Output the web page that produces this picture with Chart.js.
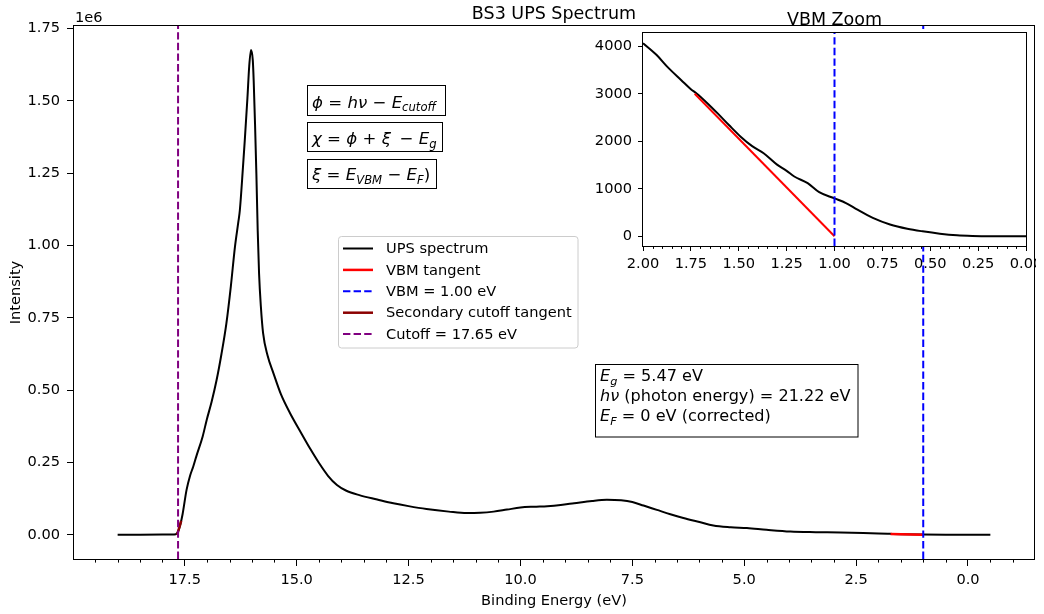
<!DOCTYPE html>
<html lang="en">
<head>
    <meta charset="UTF-8">
    <title>BS3 UPS Spectrum</title>
    <script src="https://cdn.jsdelivr.net/npm/chart.js"></script>
    <style>
        body {
            margin: 0;
            background: #fff;
        }
        #wrap {
            position: relative;
            width: 1044px;
            height: 614px;
        }
        #mainChart {
            position: absolute;
            left: 0;
            top: 0;
        }
        #insetChart {
            position: absolute;
            left: 590px;
            top: 0;
        }
    </style>
</head>
<body>
    <div id="wrap">
        <canvas id="mainChart" width="1044" height="614"></canvas>
        <canvas id="insetChart" width="446" height="290"></canvas>
    </div>

    <script>
        // spectrum (binding energy in eV, intensity in counts)
        const energy = [
            19.0, 18.5, 18.0, 17.8, 17.7, 17.66, 17.6, 17.55, 17.46, 17.38, 17.31, 17.24,
            17.1, 17.01, 16.9, 16.79, 16.68, 16.57, 16.47, 16.38, 16.3, 16.27, 16.2, 16.16,
            16.1, 16.06, 16.02, 15.98, 15.96, 15.93, 15.9, 15.87, 15.84, 15.8, 15.75, 15.65,
            15.52, 15.35, 15.15, 14.9, 14.7, 14.5, 14.3, 14.1, 13.9, 13.6, 13.2, 12.84, 12.5,
            12.1, 11.6, 11.2, 10.9, 10.6, 10.3, 10.0, 9.7, 9.4, 9.1, 8.8, 8.4, 8.07, 7.75, 7.5,
            7.25, 6.95, 6.65, 6.36, 6.0, 5.69, 5.3, 4.94, 4.5, 3.97, 3.4, 2.85, 2.0, 1.75,
            1.5, 1.0, 0.5, 0.0, -0.5
        ];
        const intensity = [
            0, 0, 500, 1000, 2000, 8000, 35000, 70000, 155000, 205000, 236000, 272000,
            340000, 397000, 460000, 534000, 625000, 731000, 860000, 994000, 1085000, 1121000, 1270000, 1362000,
            1510000, 1620000, 1676000, 1640000, 1570000, 1420000, 1248000, 1050000, 903000, 790000, 697000, 620000,
            559000, 485000, 421000, 352000, 298000, 248000, 204000, 172000, 153000, 137000, 122000, 109000, 99000,
            89000, 80000, 75000, 76000, 80000, 87000, 94000, 97000, 99000, 103000, 109000, 117000, 121000, 119000, 113000,
            101000, 86000, 71000, 58000, 44000, 32000, 26000, 23000, 17000, 11000, 9000, 8000, 4080, 3100,
            2150, 800, 80, 0, 0
        ];

        const insetEnergy = [
            2.0, 1.93, 1.87, 1.8, 1.75, 1.72, 1.66, 1.61, 1.55, 1.49, 1.43, 1.37, 1.3, 1.25,
            1.21, 1.14, 1.08, 1.0, 0.94, 0.88, 0.8, 0.71, 0.62, 0.54, 0.45, 0.36, 0.28, 0.19,
            0.1, 0.0
        ];
        const insetIntensity = [
            4070, 3825, 3560, 3290, 3100, 3010, 2790, 2590, 2340, 2100, 1900, 1750, 1510, 1380,
            1260, 1120, 930, 800, 700, 560, 390, 250, 160, 105, 55, 21, 8, 3,
            0, 0
        ];

        const vbmTangentEnergy = [1.73, 1.0];
        const vbmTangentIntensity = [3005, 0];
        const cutoffTangentEnergy = [17.67, 17.58];
        const cutoffTangentIntensity = [0, 48000];

        const vbmValue = 1.0;
        const cutoffValue = 17.65;
        const bandGap = 5.47;
        const photonEnergy = 21.22;

        const mainXTicks = [17.5, 15.0, 12.5, 10.0, 7.5, 5.0, 2.5, 0.0];
        const mainYTicks = [0, 250000, 500000, 750000, 1000000, 1250000, 1500000, 1750000];
        const insetXTicks = [2.0, 1.75, 1.5, 1.25, 1.0, 0.75, 0.5, 0.25, 0.0];
        const insetYTicks = [0, 1000, 2000, 3000, 4000];

        const mainXMin = -1.475, mainXMax = 19.975;
        const mainYMin = -83800, mainYMax = 1759000;
        const insetXMin = 0, insetXMax = 2;
        const insetYMin = -204, insetYMax = 4284;

        const FONT = '"DejaVu Sans", sans-serif';
        const DASH = [7.4, 3.2];

        function toXY(xs, ys) {
            return xs.map((x, i) => ({ x: x, y: ys[i] }));
        }

        function vline(x, y0, y1) {
            return [{ x: x, y: y0 }, { x: x, y: y1 }];
        }

        // text with italic / subscript pieces, roughly like matplotlib mathtext
        function drawRich(ctx, parts, x, y, size) {
            let cx = x;
            parts.forEach(p => {
                const s = p.sub ? size * 0.7 : size;
                ctx.font = (p.it ? 'italic ' : '') + s + 'px ' + FONT;
                ctx.fillText(p.t, cx, y + (p.sub ? size * 0.22 : 0));
                cx += ctx.measureText(p.t).width;
            });
            return cx - x;
        }

        function drawFrame(chart) {
            const a = chart.chartArea;
            const ctx = chart.ctx;
            ctx.save();
            ctx.strokeStyle = '#000';
            ctx.lineWidth = 1;
            ctx.strokeRect(Math.round(a.left) - 0.5, Math.round(a.top) - 0.5,
                Math.round(a.right - a.left) + 1, Math.round(a.bottom - a.top) + 1);
            ctx.restore();
        }

        function drawMinorTicks(chart, values, len) {
            const s = chart.scales.x;
            const ctx = chart.ctx;
            ctx.save();
            ctx.strokeStyle = '#000';
            ctx.lineWidth = 1;
            ctx.beginPath();
            values.forEach(v => {
                const px = Math.round(s.getPixelForValue(v)) + 0.5;
                ctx.moveTo(px, s.top);
                ctx.lineTo(px, s.top + len);
            });
            ctx.stroke();
            ctx.restore();
        }

        function tickFont() {
            return { family: FONT, size: 14.6 };
        }

        // fixed axis boxes, no extra room for overhanging labels
        function fixHeight(h) {
            return s => { s.height = h; s.paddingLeft = 0; s.paddingRight = 0; };
        }
        function fixWidth(w) {
            return s => { s.width = w; s.paddingTop = 0; s.paddingBottom = 0; };
        }

        const mainMinor = [];
        for (let k = -2; k <= 39; k++) {
            if (k % 5 !== 0) mainMinor.push(k * 0.5);
        }
        const insetMinor = [];
        for (let k = 1; k < 40; k++) {
            if (k % 5 !== 0) insetMinor.push(k * 0.05);
        }

        const mainDecor = {
            id: 'mainDecor',
            afterDraw(chart) {
                const ctx = chart.ctx;
                const a = chart.chartArea;
                drawFrame(chart);
                drawMinorTicks(chart, mainMinor, 3.6);

                ctx.save();
                ctx.fillStyle = '#000';
                ctx.textBaseline = 'alphabetic';

                // title and axis titles
                ctx.textAlign = 'center';
                ctx.font = '17.5px ' + FONT;
                ctx.fillText('BS3 UPS Spectrum', (a.left + a.right) / 2, 18.5);
                ctx.font = '14.6px ' + FONT;
                ctx.fillText('Binding Energy (eV)', (a.left + a.right) / 2, 604.5);
                ctx.save();
                ctx.translate(20, (a.top + a.bottom) / 2);
                ctx.rotate(-Math.PI / 2);
                ctx.fillText('Intensity', 0, 0);
                ctx.restore();
                ctx.textAlign = 'left';
                ctx.fillText('1e6', a.left + 1, 21.5);

                // formula boxes
                const boxes = [
                    { r: [307.5, 85.5, 138, 30], base: 107.5, parts: [
                        { t: 'ϕ', it: 1 }, { t: ' = ' }, { t: 'hν', it: 1 }, { t: ' − ' },
                        { t: 'E', it: 1 }, { t: 'cutoff', it: 1, sub: 1 }] },
                    { r: [307.5, 122.5, 135, 29], base: 144, parts: [
                        { t: 'χ', it: 1 }, { t: ' = ' }, { t: 'ϕ', it: 1 }, { t: ' + ' },
                        { t: 'ξ', it: 1 }, { t: '\u2009 − ' }, { t: 'E', it: 1 }, { t: 'g', it: 1, sub: 1 }] },
                    { r: [307.5, 159.5, 129, 29], base: 180, parts: [
                        { t: 'ξ', it: 1 }, { t: ' = ' }, { t: 'E', it: 1 }, { t: 'VBM', it: 1, sub: 1 },
                        { t: ' − ' }, { t: 'E', it: 1 }, { t: 'F', it: 1, sub: 1 }, { t: ')' }] }
                ];
                boxes.forEach(b => {
                    ctx.fillStyle = '#fff';
                    ctx.fillRect(b.r[0], b.r[1], b.r[2], b.r[3]);
                    ctx.strokeStyle = '#000';
                    ctx.lineWidth = 1;
                    ctx.strokeRect(b.r[0], b.r[1], b.r[2], b.r[3]);
                    ctx.fillStyle = '#000';
                    drawRich(ctx, b.parts, b.r[0] + 4.5, b.base, 16.6);
                });

                // legend
                const lg = { x: 338.5, y: 236.5, w: 239.5, h: 111.5 };
                ctx.fillStyle = 'rgba(255,255,255,0.8)';
                ctx.strokeStyle = '#cccccc';
                ctx.lineWidth = 1;
                ctx.beginPath();
                ctx.roundRect(lg.x, lg.y, lg.w, lg.h, 3);
                ctx.fill();
                ctx.stroke();
                ctx.font = '14.6px ' + FONT;
                ctx.textBaseline = 'middle';
                chart.data.datasets.forEach((ds, i) => {
                    const y = 248.5 + i * 21.4;
                    ctx.save();
                    ctx.strokeStyle = ds.borderColor;
                    ctx.lineWidth = ds.borderWidth;
                    ctx.setLineDash(ds.borderDash || []);
                    ctx.beginPath();
                    ctx.moveTo(343, y);
                    ctx.lineTo(373, y);
                    ctx.stroke();
                    ctx.restore();
                    ctx.fillStyle = '#000';
                    ctx.fillText(ds.label, 386, y + 1);
                });

                // info box
                ctx.textBaseline = 'alphabetic';
                ctx.fillStyle = '#fff';
                ctx.fillRect(595.5, 364.5, 262.5, 72.5);
                ctx.strokeStyle = '#000';
                ctx.strokeRect(595.5, 364.5, 262.5, 72.5);
                ctx.fillStyle = '#000';
                drawRich(ctx, [{ t: 'E', it: 1 }, { t: 'g', it: 1, sub: 1 }, { t: ' = ' + bandGap.toFixed(2) + ' eV' }], 600, 381, 16.1);
                drawRich(ctx, [{ t: 'hν', it: 1 }, { t: ' (photon energy) = ' + photonEnergy.toFixed(2) + ' eV' }], 600, 401, 16.1);
                drawRich(ctx, [{ t: 'E', it: 1 }, { t: 'F', it: 1, sub: 1 }, { t: ' = 0 eV (corrected)' }], 600, 421, 16.1);
                ctx.restore();
            }
        };

        new Chart(document.getElementById('mainChart'), {
            type: 'line',
            data: {
                datasets: [
                    {
                        label: 'UPS spectrum',
                        data: toXY(energy, intensity),
                        borderColor: '#000000',
                        borderWidth: 2,
                        cubicInterpolationMode: 'monotone',
                        order: 5
                    },
                    {
                        label: 'VBM tangent',
                        data: toXY(vbmTangentEnergy, vbmTangentIntensity),
                        borderColor: '#ff0000',
                        borderWidth: 2.5,
                        order: 4
                    },
                    {
                        label: 'VBM = ' + vbmValue.toFixed(2) + ' eV',
                        data: vline(vbmValue, mainYMin, mainYMax),
                        borderColor: '#0000ff',
                        borderWidth: 2,
                        borderDash: DASH,
                        order: 3
                    },
                    {
                        label: 'Secondary cutoff tangent',
                        data: toXY(cutoffTangentEnergy, cutoffTangentIntensity),
                        borderColor: '#8b0000',
                        borderWidth: 2.5,
                        order: 2
                    },
                    {
                        label: 'Cutoff = ' + cutoffValue.toFixed(2) + ' eV',
                        data: vline(cutoffValue, mainYMin, mainYMax),
                        borderColor: '#800080',
                        borderWidth: 2,
                        borderDash: DASH,
                        order: 1
                    }
                ]
            },
            options: {
                responsive: false,
                animation: false,
                layout: { padding: { top: 26, right: 10, left: 0, bottom: 0 } },
                elements: { point: { radius: 0 }, line: { fill: false, tension: 0 } },
                plugins: { legend: { display: false }, tooltip: { enabled: false } },
                scales: {
                    x: {
                        type: 'linear',
                        reverse: true,
                        min: mainXMin,
                        max: mainXMax,
                        afterFit: fixHeight(55),
                        afterBuildTicks: s => { s.ticks = mainXTicks.map(v => ({ value: v })); },
                        grid: { drawOnChartArea: false, drawTicks: true, tickLength: 7, tickColor: '#000', tickWidth: 1 },
                        border: { display: false },
                        ticks: {
                            color: '#000', font: tickFont(), padding: 5, maxRotation: 0, autoSkip: false,
                            callback: v => v.toFixed(1)
                        }
                    },
                    y: {
                        type: 'linear',
                        min: mainYMin,
                        max: mainYMax,
                        afterFit: fixWidth(74),
                        afterBuildTicks: s => { s.ticks = mainYTicks.map(v => ({ value: v })); },
                        grid: { drawOnChartArea: false, drawTicks: true, tickLength: 7, tickColor: '#000', tickWidth: 1 },
                        border: { display: false },
                        ticks: {
                            color: '#000', font: tickFont(), padding: 7, autoSkip: false,
                            callback: v => (v / 1e6).toFixed(2)
                        }
                    }
                }
            },
            plugins: [mainDecor]
        });

        const insetDecor = {
            id: 'insetDecor',
            beforeDraw(chart) {
                const a = chart.chartArea;
                chart.ctx.save();
                chart.ctx.fillStyle = '#fff';
                chart.ctx.fillRect(a.left, a.top, a.right - a.left, a.bottom - a.top);
                chart.ctx.restore();
            },
            afterDraw(chart) {
                const ctx = chart.ctx;
                const a = chart.chartArea;
                drawFrame(chart);
                drawMinorTicks(chart, insetMinor, 2.9);
                ctx.save();
                ctx.fillStyle = '#000';
                ctx.textAlign = 'center';
                ctx.textBaseline = 'alphabetic';
                ctx.font = '17.5px ' + FONT;
                ctx.fillText('VBM Zoom', (a.left + a.right) / 2, 25);
                ctx.restore();
            }
        };

        new Chart(document.getElementById('insetChart'), {
            type: 'line',
            data: {
                datasets: [
                    {
                        label: 'UPS spectrum',
                        data: toXY(insetEnergy, insetIntensity),
                        borderColor: '#000000',
                        borderWidth: 2,
                        cubicInterpolationMode: 'monotone',
                        order: 3
                    },
                    {
                        label: 'VBM tangent',
                        data: toXY(vbmTangentEnergy, vbmTangentIntensity),
                        borderColor: '#ff0000',
                        borderWidth: 2,
                        order: 2
                    },
                    {
                        label: 'VBM',
                        data: vline(vbmValue, insetYMin, insetYMax),
                        borderColor: '#0000ff',
                        borderWidth: 2,
                        borderDash: DASH,
                        order: 1
                    }
                ]
            },
            options: {
                responsive: false,
                animation: false,
                layout: { padding: { top: 33, right: 10, left: 0, bottom: 0 } },
                elements: { point: { radius: 0 }, line: { fill: false, tension: 0 } },
                plugins: { legend: { display: false }, tooltip: { enabled: false } },
                scales: {
                    x: {
                        type: 'linear',
                        reverse: true,
                        min: insetXMin,
                        max: insetXMax,
                        afterFit: fixHeight(44),
                        afterBuildTicks: s => { s.ticks = insetXTicks.map(v => ({ value: v })); },
                        grid: { drawOnChartArea: false, drawTicks: true, tickLength: 5, tickColor: '#000', tickWidth: 1 },
                        border: { display: false },
                        ticks: {
                            color: '#000', font: tickFont(), padding: 4, maxRotation: 0, autoSkip: false,
                            callback: v => v.toFixed(2)
                        }
                    },
                    y: {
                        type: 'linear',
                        min: insetYMin,
                        max: insetYMax,
                        afterFit: fixWidth(53),
                        afterBuildTicks: s => { s.ticks = insetYTicks.map(v => ({ value: v })); },
                        grid: { drawOnChartArea: false, drawTicks: true, tickLength: 5, tickColor: '#000', tickWidth: 1 },
                        border: { display: false },
                        ticks: {
                            color: '#000', font: tickFont(), padding: 6, autoSkip: false,
                            callback: v => String(v)
                        }
                    }
                }
            },
            plugins: [insetDecor]
        });
    </script>
</body>
</html>
